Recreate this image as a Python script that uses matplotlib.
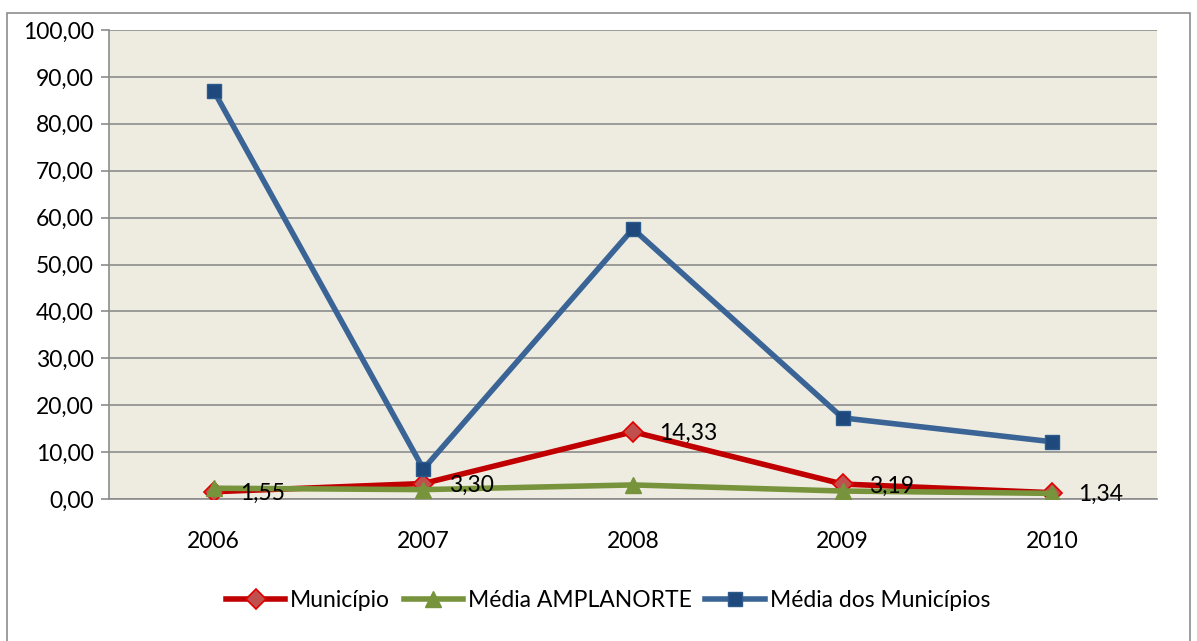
import matplotlib
matplotlib.use("Agg")
import matplotlib.pyplot as plt
from matplotlib.patches import Rectangle
from matplotlib.ticker import FuncFormatter

anos = ["2006", "2007", "2008", "2009", "2010"]
municipio = [1.55, 3.30, 14.33, 3.19, 1.34]
media_amplanorte = [2.3, 2.0, 3.0, 1.7, 1.2]
media_municipios = [87.0, 6.4, 57.6, 17.3, 12.2]

plt.rcParams['font.family'] = ['Lato', 'DejaVu Sans']

fig = plt.figure(figsize=(11.97, 6.41), dpi=100)
fig.patches.append(Rectangle((7 / 1197, -0.01), 1183 / 1197, 1 - 13 / 641 + 0.01,
                             transform=fig.transFigure, fill=False,
                             edgecolor='#8c8c8c', linewidth=1.2))
ax = fig.add_axes([109 / 1197, 1 - 499 / 641, 1048 / 1197, 469 / 641])
ax.set_facecolor('#EEECE1')

x = range(len(anos))
ax.plot(x, municipio, color='#C00000', linewidth=4.0, marker='D', markersize=10,
        markerfacecolor='#C0504D', markeredgecolor='#E00000', markeredgewidth=1.2,
        label='Município', zorder=3)
ax.plot(x, media_amplanorte, color='#77933C', linewidth=4.0, marker='^', markersize=11,
        markerfacecolor='#77933C', markeredgecolor='#77933C',
        label='Média AMPLANORTE', zorder=4)
ax.plot(x, media_municipios, color='#3B6496', linewidth=4.0, marker='s', markersize=10,
        markerfacecolor='#1F497D', markeredgecolor='#2C5A8C',
        label='Média dos Municípios', zorder=5)

for i, v in enumerate(municipio):
    ax.annotate(f"{v:.2f}".replace('.', ','), (i, v), xytext=(26, -2),
                textcoords='offset pixels', ha='left', va='center',
                fontsize=16.5, zorder=6)

ax.set_xlim(-0.5, len(anos) - 0.5)
ax.set_ylim(0, 100)
ax.set_yticks(range(0, 101, 10))
ax.yaxis.set_major_formatter(FuncFormatter(lambda v, p: f"{v:.2f}".replace('.', ',')))
ax.set_xticks(list(x))
ax.set_xticklabels(anos)
ax.grid(axis='y', color='#8c8c8c', linewidth=1.2)
ax.set_axisbelow(True)
for s in ['top', 'right']:
    ax.spines[s].set_visible(False)
for s in ['left', 'bottom']:
    ax.spines[s].set_color('#8c8c8c')
    ax.spines[s].set_linewidth(1.2)
ax.tick_params(axis='y', length=6, width=1.2, color='#8c8c8c', labelsize=16.5, pad=5)
ax.tick_params(axis='x', length=0, labelsize=16.5, pad=23)

ax.legend(loc='upper center', bbox_to_anchor=(0.476, -0.15), ncol=3, frameon=False,
          fontsize=16.5, handlelength=2.6, handletextpad=0.2, columnspacing=0.6)

fig.savefig('out.png', dpi=100)
